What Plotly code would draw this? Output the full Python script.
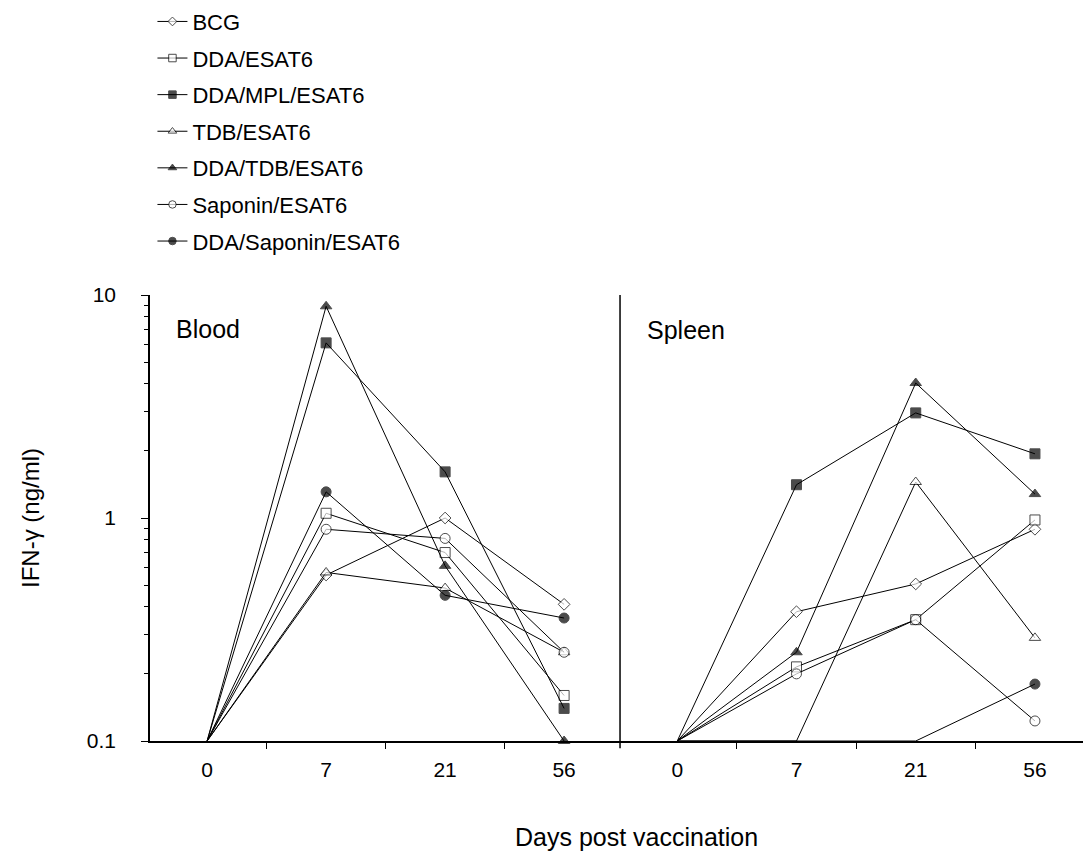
import plotly.graph_objects as go

days = ["0", "7", "21", "56"]
series_names = ["BCG", "DDA/ESAT6", "DDA/MPL/ESAT6", "TDB/ESAT6",
                "DDA/TDB/ESAT6", "Saponin/ESAT6", "DDA/Saponin/ESAT6"]

blood_bcg = [0.1, 0.555, 1.0, 0.41]
blood_dda = [0.1, 1.05, 0.70, 0.16]
blood_dda_mpl = [0.1, 6.1, 1.61, 0.14]
blood_tdb = [0.1, 0.57, 0.485, 0.25]
blood_dda_tdb = [0.1, 8.9, 0.61, 0.1]
blood_saponin = [0.1, 0.89, 0.81, 0.25]
blood_dda_saponin = [0.1, 1.31, 0.45, 0.356]

spleen_bcg = [0.1, 0.38, 0.506, 0.89]
spleen_dda = [0.1, 0.215, 0.35, 0.98]
spleen_dda_mpl = [0.1, 1.41, 2.96, 1.94]
spleen_tdb = [0.1, 0.1, 1.45, 0.29]
spleen_dda_tdb = [0.1, 0.25, 4.03, 1.28]
spleen_saponin = [0.1, 0.20, 0.35, 0.123]
spleen_dda_saponin = [0.1, 0.1, 0.1, 0.18]

blood = [blood_bcg, blood_dda, blood_dda_mpl, blood_tdb, blood_dda_tdb,
         blood_saponin, blood_dda_saponin]
spleen = [spleen_bcg, spleen_dda, spleen_dda_mpl, spleen_tdb, spleen_dda_tdb,
          spleen_saponin, spleen_dda_saponin]

symbols = ["diamond", "square", "square", "triangle-up", "triangle-up", "circle", "circle"]
fills = ["white", "white", "black", "white", "black", "white", "black"]
sizes = [9, 10, 10, 10, 10, 10, 10]

FONT = "Liberation Sans, Arial, sans-serif"
fig = go.Figure()
xpos = list(range(len(days)))

for i, name in enumerate(series_names):
    for panel, data, xa in (("blood", blood, "x"), ("spleen", spleen, "x2")):
        vals = data[i]
        msize = []
        for j, v in enumerate(vals):
            if j == 0 or (panel == "spleen" and v <= 0.1):
                msize.append(0)
            else:
                msize.append(sizes[i])
        fig.add_trace(go.Scatter(
            x=xpos, y=vals, xaxis=xa, yaxis="y",
            mode="lines+markers", name=name,
            legendgroup=name, showlegend=(panel == "blood"),
            line=dict(color="black", width=1),
            marker=dict(symbol=symbols[i], size=msize, color=fills[i],
                        line=dict(color="black", width=1)),
            cliponaxis=False if panel == "blood" else True,
        ))

axis_common = dict(
    range=[-0.48, 3.47], tickmode="array", tickvals=xpos, ticktext=days,
    ticks="", showline=True, linecolor="black", linewidth=1.5,
    showgrid=False, zeroline=False, ticklabelstandoff=9,
    tickfont=dict(family=FONT, size=21, color="black"),
    minor=dict(tickmode="array", tickvals=[0.5, 1.5, 2.5], ticks="outside",
               ticklen=6, tickcolor="black", tickwidth=1),
)

fig.update_layout(
    width=1083, height=843,
    paper_bgcolor="white", plot_bgcolor="white",
    margin=dict(l=142, r=0, t=287, b=110, autoexpand=False),
    font=dict(family=FONT, color="black"),
    xaxis=dict(domain=[0, 0.4995], automargin=False, **axis_common),
    xaxis2=dict(domain=[0.4995, 1], anchor="y", automargin=False, **axis_common),
    yaxis=dict(type="log", range=[-1, 1], tickvals=[0.1, 1, 10], automargin=False,
               ticktext=["0.1", "1", "10"], ticks="outside", ticklen=7,
               tickcolor="black", showline=True, linecolor="black", linewidth=1.5,
               showgrid=False, zeroline=False, ticklabelstandoff=21,
               tickfont=dict(family=FONT, size=21, color="black"),
               title=dict(text="IFN-γ (ng/ml)", standoff=40,
                          font=dict(family=FONT, size=24, color="black")),
               minor=dict(tickvals=[0.2, 0.3, 0.4, 0.5, 0.6, 0.7, 0.8, 0.9,
                                    2, 3, 4, 5, 6, 7, 8, 9],
                          ticks="outside", ticklen=4, tickcolor="black")),
    legend=dict(x=0.0026, y=1.66, xanchor="left", yanchor="top",
                font=dict(family=FONT, size=22, color="black"),
                tracegroupgap=5, bgcolor="rgba(0,0,0,0)"),
    showlegend=True,
    shapes=[dict(type="line", xref="paper", yref="paper", x0=0.4995, x1=0.4995,
                 y0=-0.016, y1=1.0, line=dict(color="black", width=1.5))],
    annotations=[
        dict(text="Blood", xref="paper", yref="paper", x=0.0255, y=0.924,
             xanchor="left", yanchor="middle", showarrow=False,
             font=dict(family=FONT, size=25, color="black")),
        dict(text="Spleen", xref="paper", yref="paper", x=0.526, y=0.921,
             xanchor="left", yanchor="middle", showarrow=False,
             font=dict(family=FONT, size=25, color="black")),
        dict(text="Days post vaccination", xref="paper", yref="paper", x=0.5175,
             y=-0.215, xanchor="center", yanchor="middle", showarrow=False,
             font=dict(family=FONT, size=25, color="black")),
    ],
)

fig.write_html("out.html")
